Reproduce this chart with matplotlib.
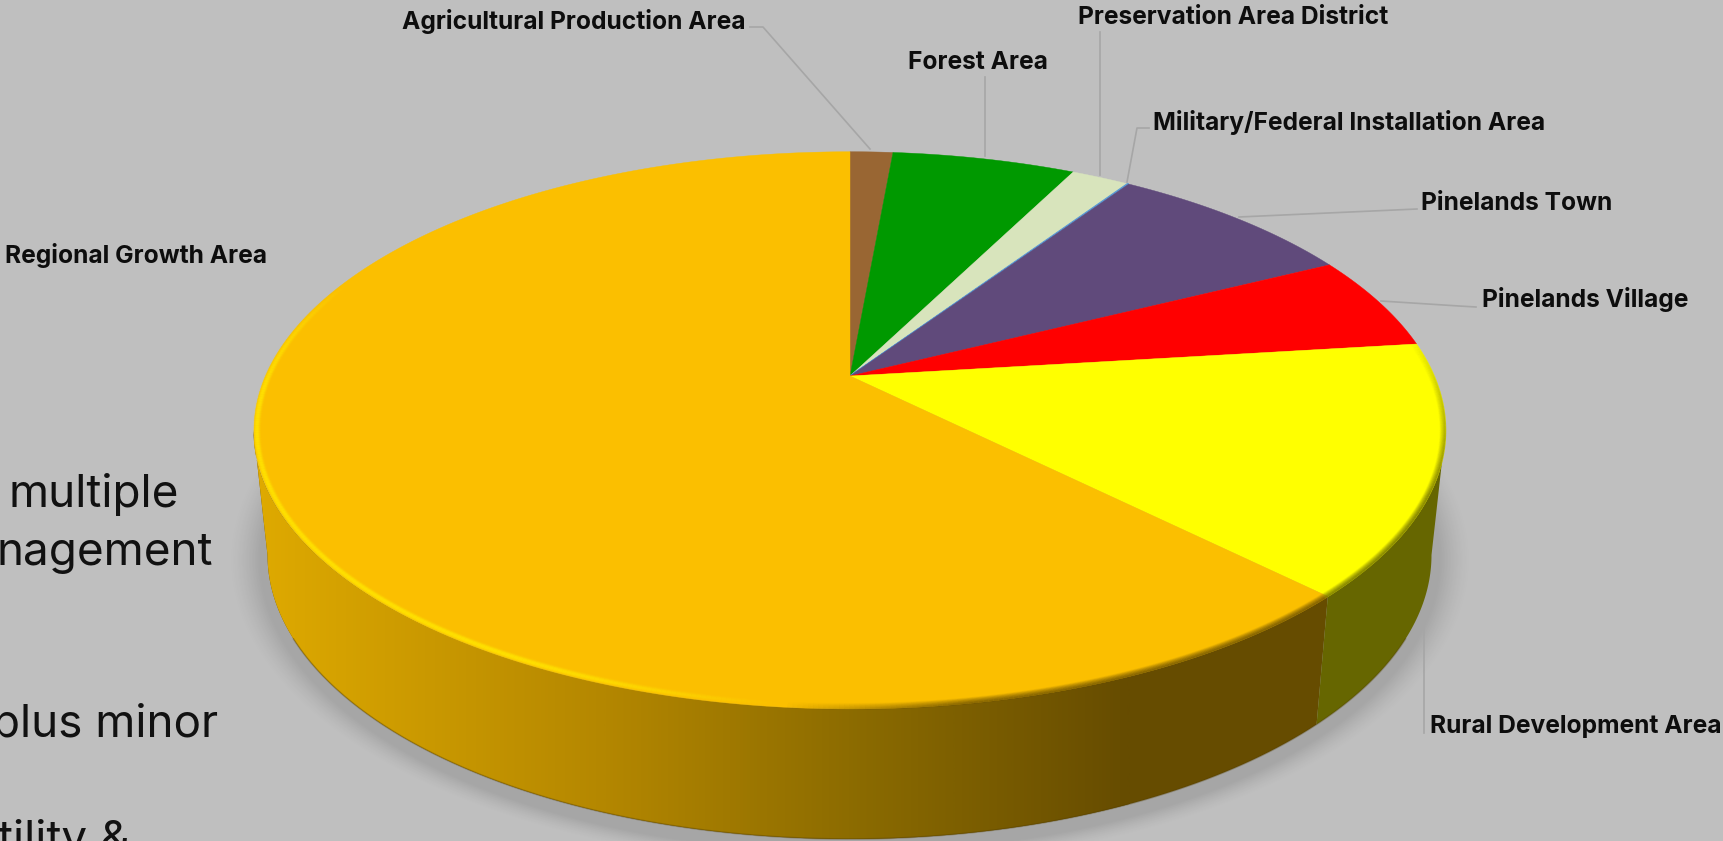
import numpy as np
import matplotlib
matplotlib.use('Agg')
import matplotlib.pyplot as plt
from matplotlib.collections import LineCollection
from matplotlib.colors import LinearSegmentedColormap, to_rgb
from matplotlib.patches import Polygon

# Slices, clockwise from 12 o'clock (share of the total, percent)
categories = ['Agricultural Production Area', 'Forest Area', 'Preservation Area District',
              'Military/Federal Installation Area', 'Pinelands Town', 'Pinelands Village',
              'Rural Development Area', 'Regional Growth Area']
shares = [1.4, 6.0, 1.9, 0.05, 8.2, 5.5, 14.5, 62.45]
colors = ['#996633', '#009900', '#d8e4bc', '#5b9bd5', '#604a7b', '#ff0000', '#ffff00', '#fbbf00']

label_pos = [(402, 21), (908, 62), (1078, 17), (1153, 122), (1421, 203), (1482, 300), (1430, 727), (5, 255)]

bg = '#bfbfbf'
W, H = 1724, 841

fig = plt.figure(figsize=(W / 100, H / 100), dpi=100, facecolor=bg)
ax = fig.add_axes([0, 0, 1, 1])
ax.set_xlim(0, W)
ax.set_ylim(H, 0)
ax.axis('off')

# top disc in perspective
cx0, cy0 = 850, 376
k = 0.195
a = 268.0
b = 584.5
# same disc as an ellipse, and the lower edge of the side wall
ex, ey, rx, ry = 849.5, 430.3, 596, 278.6
ey2, rx2, ry2 = 555, 582, 284


def project(theta):
    X, Y = np.sin(theta), np.cos(theta)
    w = 1 + k * Y
    return cx0 + b * X / w, cy0 - a * Y / w


def upper(s, d=0):
    return ex + (rx - d) * np.cos(s), ey + (ry - d) * np.sin(s)


def lower(s):
    return ex + rx2 * np.cos(s), ey2 + ry2 * np.sin(s)


# soft shadow under the pie
xx, yy = np.meshgrid(np.arange(W) + .5, np.arange(H) + .5)
dist = (np.sqrt(((xx - 850) / 590) ** 2 + ((yy - 560) / 292) ** 2) - 1) * 590
fade = np.clip(1 - dist / 32, 0, 1) ** 1.5
shadow = np.zeros((H, W, 4))
shadow[..., 3] = 0.13 * fade
ax.imshow(shadow, extent=(0, W, H, 0), zorder=1, aspect='auto')
ax.set_xlim(0, W)
ax.set_ylim(H, 0)

# angles of the slice borders
edges = np.cumsum([0] + shares) / sum(shares) * 2 * np.pi
gx, gy = project(edges[7])
s_g = np.arctan2((gy - ey) / ry, (gx - ex) / rx)

# side wall: orange part with a left to right gradient, yellow part flat
s_orange = np.linspace(s_g, np.pi, 120)
ux, uy = upper(s_orange)
lx, ly = lower(s_orange)
verts = np.r_[np.c_[ux, uy], np.c_[lx, ly][::-1]]
cmap = LinearSegmentedColormap.from_list('side', [(0, '#dfaa00'), (0.4, '#b48700'), (0.7, '#8a6a00'),
                                                  (1, '#664c00')])
im = ax.imshow(np.linspace(0, 1, 512)[None, :], cmap=cmap, extent=(254, 1130, 845, 400), aspect='auto',
               zorder=2, vmin=0, vmax=1)
ax.set_xlim(0, W)
ax.set_ylim(H, 0)
ax.fill(verts[:, 0], verts[:, 1], color='#664c00', lw=0, zorder=1.9)
clip = Polygon(verts, transform=ax.transData)
im.set_clip_path(clip)

s_yellow = np.linspace(0, s_g, 60)
ux, uy = upper(s_yellow)
lx, ly = lower(s_yellow)
ax.fill(np.r_[ux, lx[::-1]], np.r_[uy, ly[::-1]], color='#666600', lw=0, zorder=2)

# dark hairline along the bottom of the wall
s_low = np.linspace(0.3, np.pi - 0.3, 200)
ax.plot(*lower(s_low), color='#4d3a00', alpha=0.3, lw=1.2, zorder=2.5)

# top of the pie
for i in range(len(shares)):
    th = np.linspace(edges[i], edges[i + 1], max(3, int(shares[i] * 8)))
    px, py = project(th)
    ax.fill(np.r_[cx0, px], np.r_[cy0, py], color=colors[i], lw=0.3 if i != 3 else 0.9,
            ec=colors[i], zorder=3)

# bevel round the rim: bright on the left, dark on the right
s_all = np.radians(np.arange(-30, 215, 0.5))
deg = np.degrees(s_all)
s_g_deg = np.degrees(s_g)


def ramp(v, lo, hi):
    return np.clip((v - lo) / (hi - lo), 0, 1)


for d in np.arange(0, 9, 0.75):
    x, y = upper(s_all, d)
    pts = np.c_[x, y]
    segs = np.stack([pts[:-1], pts[1:]], axis=1)
    mid = deg[:-1]
    hi = ramp(mid, 96, 125) * (1 - ramp(mid, 186, 212)) * np.exp(-((d - 3.5) / 2.2) ** 2)
    lo = ramp(mid, -20, 14) * (1 - ramp(mid, 78, 96)) * np.clip(1 - d / 6, 0, 1) * 0.55
    rgba = np.zeros((len(segs), 4))
    hi_c = np.array(to_rgb('#ffe100'))
    dk_o = np.array(to_rgb('#664c00'))
    dk_y = np.array(to_rgb('#666600'))
    dk = np.where((mid > s_g_deg)[:, None], dk_o, dk_y)
    use_hi = mid > 96
    rgba[:, :3] = np.where(use_hi[:, None], hi_c, dk)
    rgba[:, 3] = np.where(use_hi, hi * 0.9, lo)
    ax.add_collection(LineCollection(segs, colors=rgba, linewidths=1.1, zorder=4, capstyle='butt'))

# leader lines
lc = '#a6a6a6'
ax.plot([750, 763, 870], [27, 27, 149], color=lc, lw=1.2, zorder=5)
ax.plot([985, 985], [77, 156], color=lc, lw=1.2, zorder=5)
ax.plot([1100, 1100], [32, 175], color=lc, lw=1.2, zorder=5)
ax.plot([1149, 1137, 1127], [128, 128, 182], color=lc, lw=1.2, zorder=5)
ax.plot([1417, 1239], [209, 217], color=lc, lw=1.2, zorder=5)
ax.plot([1476, 1459, 1381], [307, 306, 301], color=lc, lw=1.2, zorder=5)
ax.plot([1424, 1424], [600, 733], color=lc, lw=1.2, zorder=1.5)

# labels
for name, (lx_, ly_) in zip(categories, label_pos):
    ax.text(lx_, ly_, name, fontsize=17.7, fontweight='bold', family='Inter', color='#0d0d0d',
            ha='left', va='center', zorder=6)

# body text of the slide behind the chart, cut off by the left edge
ax.text(179, 507, 'multiple', fontsize=33, family='Inter', color='#111111', ha='right', va='baseline', zorder=6)
ax.text(213, 565, 'nagement', fontsize=33, family='Inter', color='#111111', ha='right', va='baseline', zorder=6)
ax.text(218, 737, 'plus minor', fontsize=33, family='Inter', color='#111111', ha='right', va='baseline', zorder=6)
ax.text(130, 853, 'tility &', fontsize=33, family='Inter', color='#111111', ha='right', va='baseline', zorder=6)

fig.savefig('out.png', dpi=100, facecolor=bg)
